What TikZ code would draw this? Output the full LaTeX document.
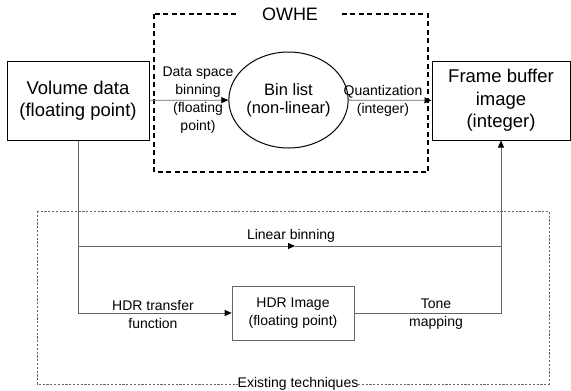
\documentclass[tikz,border=0pt]{standalone}
\usepackage{fontspec}
\setmainfont{Liberation Sans}
\usetikzlibrary{positioning,shapes.geometric,arrows.meta}
\definecolor{wiregray}{gray}{0.4}

\begin{document}
\begin{tikzpicture}[x=1pt,y=-1pt,
    bigbox/.style={draw, line width=1pt, align=center, inner sep=0pt,
      font=\fontsize{18.5}{22.5}\selectfont},
    label/.style={align=center, inner sep=0pt, font=\fontsize{14}{18}\selectfont},
    wire/.style={draw=wiregray, line width=0.8pt},
    tip/.style={-{Triangle[length=7pt,width=6pt,color=black]}}]
  \useasboundingbox (0,0) rectangle (571,391);

  % outer frames
  \draw[line width=1.3pt, dash pattern=on 5pt off 3.5pt] (154,14) rectangle (428,172);
  \node[fill=white, inner xsep=22pt, font=\fontsize{18}{20}\selectfont] (owhe) at (290,14) {OWHE};
  \draw[wiregray, line width=0.6pt, dash pattern=on 2.2pt off 1.6pt] (37,211) rectangle (549,384);
  \node[fill=white, inner xsep=4pt, label] (existing) at (298,384) {Existing techniques};

  % main blocks
  \node[bigbox, minimum width=142, minimum height=79] (vol) at (78,100.5) {Volume data\\(floating point)};
  \node[ellipse, draw, line width=1pt, minimum width=103, minimum height=96, align=center,
    inner sep=0pt, font=\fontsize{16.5}{18}\selectfont] (bins) at (288.5,100) {Bin list\\(non-linear)};
  \node[bigbox, minimum width=138, minimum height=79] (fb) at (501,100.5) {Frame buffer\\image\\(integer)};
  \node[draw=wiregray, line width=0.6pt, minimum width=122, minimum height=54, label] (hdr) at (293,313)
    {HDR Image\\(floating point)};

  \coordinate (split) at (78,246);
  \coordinate (mid) at (295,246);
  \coordinate (join) at (fb.south |- split);

  % OWHE path
  \draw[wire, tip] (vol) -- (bins);
  \node[label] at (198,100) {Data space\\binning\\(floating\\point)};
  \draw[wire, tip] (bins) -- (fb);
  \node[label] at (383,101) {Quantization\\(integer)};

  % existing techniques
  \draw[wire, tip] (vol.south) |- (hdr.west);
  \node[label] at (153,314) {HDR transfer\\function};
  \draw[wire, tip] (split) -- (mid);
  \draw[wire] (mid) -- (join);
  \node[label] at (291,236) {Linear binning};
  \draw[wire, tip] (hdr.east) -| (fb.south);
  \node[label] at (436,314) {Tone\\mapping};
\end{tikzpicture}
\end{document}
